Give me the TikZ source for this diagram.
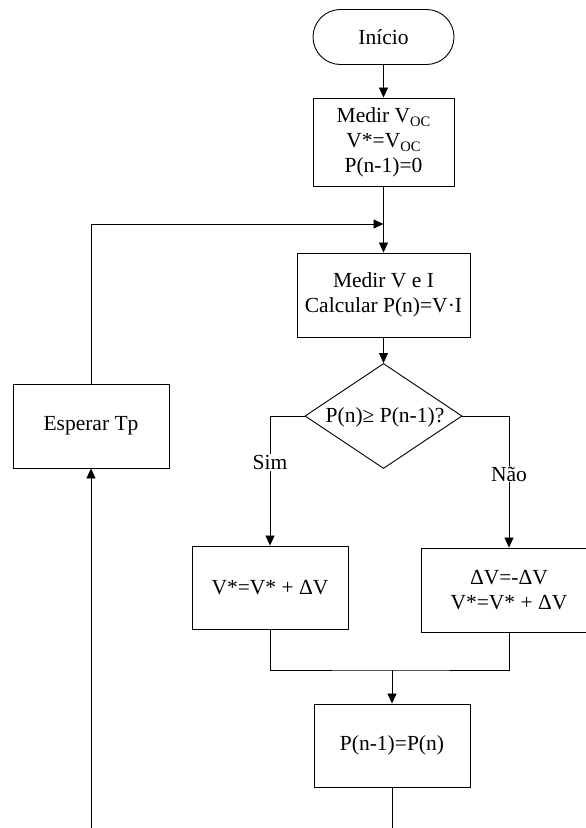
\documentclass[tikz,border=0pt]{standalone}
\usepackage{fontspec}
\setmainfont{Liberation Serif}
\usetikzlibrary{shapes.geometric,shapes.misc,arrows.meta}
\newcommand\sbs[1]{\raisebox{-0.22em}{\fontsize{14.5}{14.5}\selectfont #1}}
\begin{document}
\begin{tikzpicture}[x=1pt,y=-1pt,
  every node/.style={font=\fontsize{21.5}{25}\selectfont},
  procbox/.style={draw, line width=0.9pt, inner sep=0pt, align=center},
  termbox/.style={draw, line width=0.9pt, rounded rectangle, inner sep=0pt, minimum width=141pt, minimum height=55pt},
  decbox/.style={draw, line width=0.9pt, diamond, inner sep=0pt, minimum width=157pt, minimum height=105pt},
  conn/.style={line width=0.8pt},
  arr/.style={conn, -{Triangle[length=10pt,width=9pt]}},
  lbl/.style={fill=white, inner sep=1pt}]
\useasboundingbox (0,0) rectangle (586,828);
\node[termbox] (start) at (383.5,37) {Início};
\node[procbox, minimum width=141pt, minimum height=88pt] (b1) at (383.5,142) {Medir V\sbs{OC}\\V*=V\sbs{OC}\\P(n-1)=0};
\node[procbox, minimum width=173pt, minimum height=84pt] (b2) at (383.5,295) {Medir V e I\\Calcular P(n)=V·I};
\node[decbox] (dec) at (383.5,416) {};
\node at (385,417) {P(n)≥ P(n-1)?};
\node[procbox, minimum width=156pt, minimum height=83pt] (b3) at (270,587.5) {V*=V* + ΔV};
\node[procbox, minimum width=176pt, minimum height=84pt] (b4) at (509,590) {ΔV=-ΔV\\V*=V* + ΔV};
\node[procbox, minimum width=156pt, minimum height=83pt] (b5) at (392,745.5) {P(n-1)=P(n)};
\node[procbox, minimum width=156pt, minimum height=84pt] (esp) at (91,426) {Esperar Tp};
\coordinate (j1) at (383.5,224);
\coordinate (m) at (392,670);
\coordinate (e5) at (392,830);
\coordinate (ee) at (91,830);
\draw[arr] (start.south) -- (b1.north);
\draw[arr] (b1.south) -- (b2.north);
\draw[arr] (esp.north) |- (j1);
\draw[arr] (b2.south) -- (dec.north);
\draw[arr] (dec.west) -| node[lbl, pos=0.68] {Sim} (b3.north);
\draw[arr] (dec.east) -| node[lbl, pos=0.72] {Não} (b4.north);
\draw[conn] (b3.south) |- (m) -| (b4.south);
\draw[arr] (m) -- (b5.north);
\draw[conn] (b5.south) -- (e5);
\draw[arr] (ee) -- (esp.south);
\end{tikzpicture}
\end{document}
